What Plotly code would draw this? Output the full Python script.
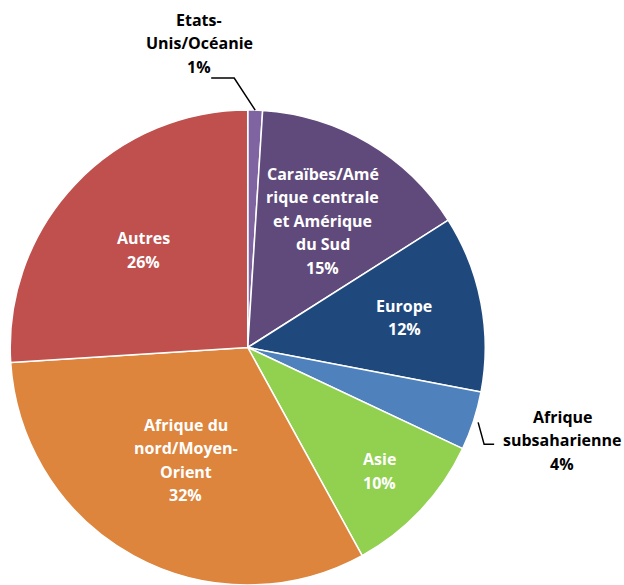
import math
import plotly.graph_objects as go

# ---- data ----
regions = ["Etats-<br>Unis/Océanie", "Caraïbes/Amé<br>rique centrale<br>et Amérique<br>du Sud", "Europe",
           "Afrique<br>subsaharienne", "Asie", "Afrique du<br>nord/Moyen-<br>Orient", "Autres"]
shares = [1, 15, 12, 4, 10, 32, 26]
colors = ["#8064A2", "#604A7B", "#1F497D", "#4F81BD", "#92D050", "#DD843D", "#C0504D"]

# label placement style (radius fraction for inside labels; None = outside with leader)
label_r = [None, 0.62, 0.67, None, 0.76, 0.54, 0.60]
# outside labels: leader start radius, elbow offset, end offset, text offset (pixels from start)
outside = {
    0: dict(r=1.0, elbow=(-21, -32), end=(-44, -32), text=(-56, -67)),
    3: dict(r=1.02, elbow=(6, 22), end=(16, 22), text=(84, 18)),
}
LINE_H = 23.5

W, H = 624, 585
dom_x = [0.012, 0.782]
dom_y = [0.0, 0.812]
cx = (dom_x[0] + dom_x[1]) / 2 * W
cy = (1 - (dom_y[0] + dom_y[1]) / 2) * H
R = min((dom_x[1] - dom_x[0]) * W, (dom_y[1] - dom_y[0]) * H) / 2

fig = go.Figure(go.Pie(
    labels=[r.replace("<br>", " ") for r in regions],
    values=shares,
    sort=False,
    direction="clockwise",
    rotation=0,
    marker=dict(colors=colors, line=dict(color="white", width=1.5)),
    textinfo="none",
    hoverinfo="label+percent",
    domain=dict(x=dom_x, y=dom_y),
    showlegend=False,
))

def px2paper(x, y):
    return x / W, 1 - y / H

total = sum(shares)
cum = 0
annotations = []
shapes = []
FONT = "Open Sans, Lato, sans-serif"

def add_block(x, y, lines, color):
    n = len(lines)
    for k, ln in enumerate(lines):
        ly = y + (k - (n - 1) / 2) * LINE_H
        xp, yp = px2paper(x, ly)
        annotations.append(dict(x=xp, y=yp, xref="paper", yref="paper", text=f"<b>{ln}</b>",
                                showarrow=False, font=dict(family=FONT, size=16, color=color),
                                xanchor="center", yanchor="middle"))

for i, (lab, v) in enumerate(zip(regions, shares)):
    mid = (cum + v / 2) / total * 2 * math.pi
    cum += v
    lines = lab.split("<br>") + [f"{v}%"]
    if label_r[i] is not None:
        r = label_r[i] * R
        x, y = cx + r * math.sin(mid), cy - r * math.cos(mid)
        add_block(x, y, lines, "white")
    else:
        o = outside[i]
        sx, sy = cx + o["r"] * R * math.sin(mid), cy - o["r"] * R * math.cos(mid)
        pts = [(sx, sy), (sx + o["elbow"][0], sy + o["elbow"][1]), (sx + o["end"][0], sy + o["end"][1])]
        pp = [px2paper(*p) for p in pts]
        path = "M {} {} L {} {} L {} {}".format(*[c for p in pp for c in p])
        shapes.append(dict(type="path", xref="paper", yref="paper", path=path,
                           line=dict(color="black", width=1.5)))
        add_block(sx + o["text"][0], sy + o["text"][1], lines, "black")

fig.update_layout(
    width=W, height=H,
    margin=dict(l=0, r=0, t=0, b=0),
    paper_bgcolor="white",
    plot_bgcolor="white",
    annotations=annotations,
    shapes=shapes,
)

fig.write_html("out.html", config={"displayModeBar": False},
               post_script="document.body.style.margin='0';")
